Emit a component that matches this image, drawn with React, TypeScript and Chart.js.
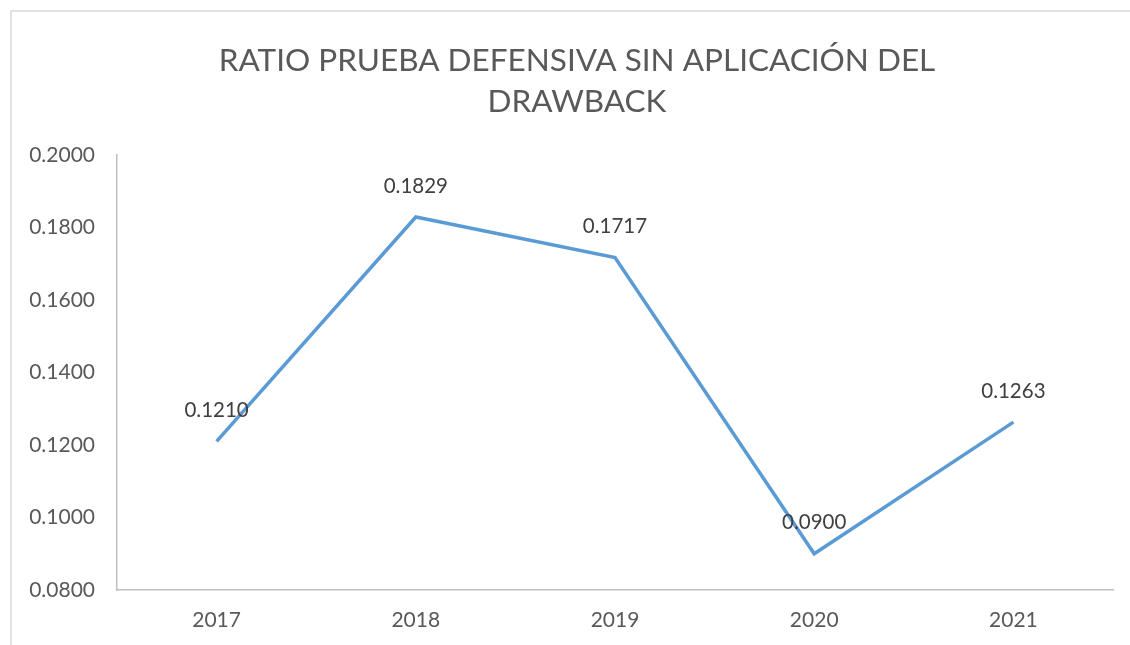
import React, { useEffect, useRef } from "react";
import { Chart, registerables } from "chart.js";

Chart.register(...registerables);

const years = ["2017", "2018", "2019", "2020", "2021"];
const ratios = [0.121, 0.1829, 0.1717, 0.09, 0.1263];
const ratioLabels = ["0.1210", "0.1829", "0.1717", "0.0900", "0.1263"];
const titleLines = ["RATIO PRUEBA DEFENSIVA SIN APLICACIÓN DEL", "DRAWBACK"];
const FONT = "Lato, 'Open Sans', sans-serif";

const framePlugin = {
  id: "frame",
  beforeDraw(chart: any) {
    const ctx = chart.ctx;
    ctx.save();
    ctx.fillStyle = "#ffffff";
    ctx.fillRect(0, 0, chart.width, chart.height);
    ctx.strokeStyle = "#d9d9d9";
    ctx.lineWidth = 1.5;
    ctx.beginPath();
    ctx.moveTo(11, chart.height);
    ctx.lineTo(11, 11);
    ctx.lineTo(chart.width, 11);
    ctx.stroke();
    // title
    ctx.fillStyle = "#595959";
    ctx.font = `31.5px ${FONT}`;
    ctx.textAlign = "center";
    ctx.textBaseline = "middle";
    ctx.fillText(titleLines[0], 577, 61);
    ctx.fillText(titleLines[1], 577, 102);
    ctx.restore();
  },
};

const labelPlugin = {
  id: "pointLabels",
  afterDatasetsDraw(chart: any) {
    const ctx = chart.ctx;
    const meta = chart.getDatasetMeta(0);
    ctx.save();
    ctx.fillStyle = "#404040";
    ctx.font = `20.5px ${FONT}`;
    ctx.textAlign = "center";
    ctx.textBaseline = "middle";
    meta.data.forEach((pt: any, i: number) => {
      ctx.fillText(ratioLabels[i], pt.x, pt.y - 31);
    });
    ctx.restore();
  },
};

export default function App() {
  const ref = useRef<HTMLCanvasElement>(null);
  useEffect(() => {
    const chart = new Chart(ref.current!, {
      type: "line",
      data: {
        labels: years,
        datasets: [
          {
            data: ratios,
            borderColor: "#5b9bd5",
            borderWidth: 3.5,
            pointRadius: 0,
            tension: 0,
            fill: false,
          },
        ],
      },
      options: {
        animation: false,
        responsive: false,
        layout: { padding: { left: 0, right: 17, top: 155, bottom: 0 } },
        plugins: { legend: { display: false }, tooltip: { enabled: false }, title: { display: false } },
        scales: {
          x: {
            offset: true,
            grid: { display: false },
            border: { display: true, color: "#bfbfbf", width: 1.5 },
            ticks: { color: "#595959", font: { family: FONT, size: 21 }, padding: 10 },
            afterFit: (s: any) => {
              s.height = 55;
            },
          },
          y: {
            min: 0.08,
            max: 0.2,
            grid: { display: false },
            border: { display: true, color: "#bfbfbf", width: 1.5 },
            ticks: {
              stepSize: 0.02,
              color: "#595959",
              font: { family: FONT, size: 21 },
              padding: 14,
              callback: (v: any) => Number(v).toFixed(4),
            },
            afterFit: (s: any) => {
              s.width = 117;
            },
          },
        },
      },
      plugins: [framePlugin, labelPlugin],
    });
    return () => chart.destroy();
  }, []);
  return (
    <div style={{ position: "absolute", left: 0, top: 0, width: 1130, height: 645 }}>
      <canvas ref={ref} width={1130} height={645} style={{ display: "block" }} />
    </div>
  );
}
